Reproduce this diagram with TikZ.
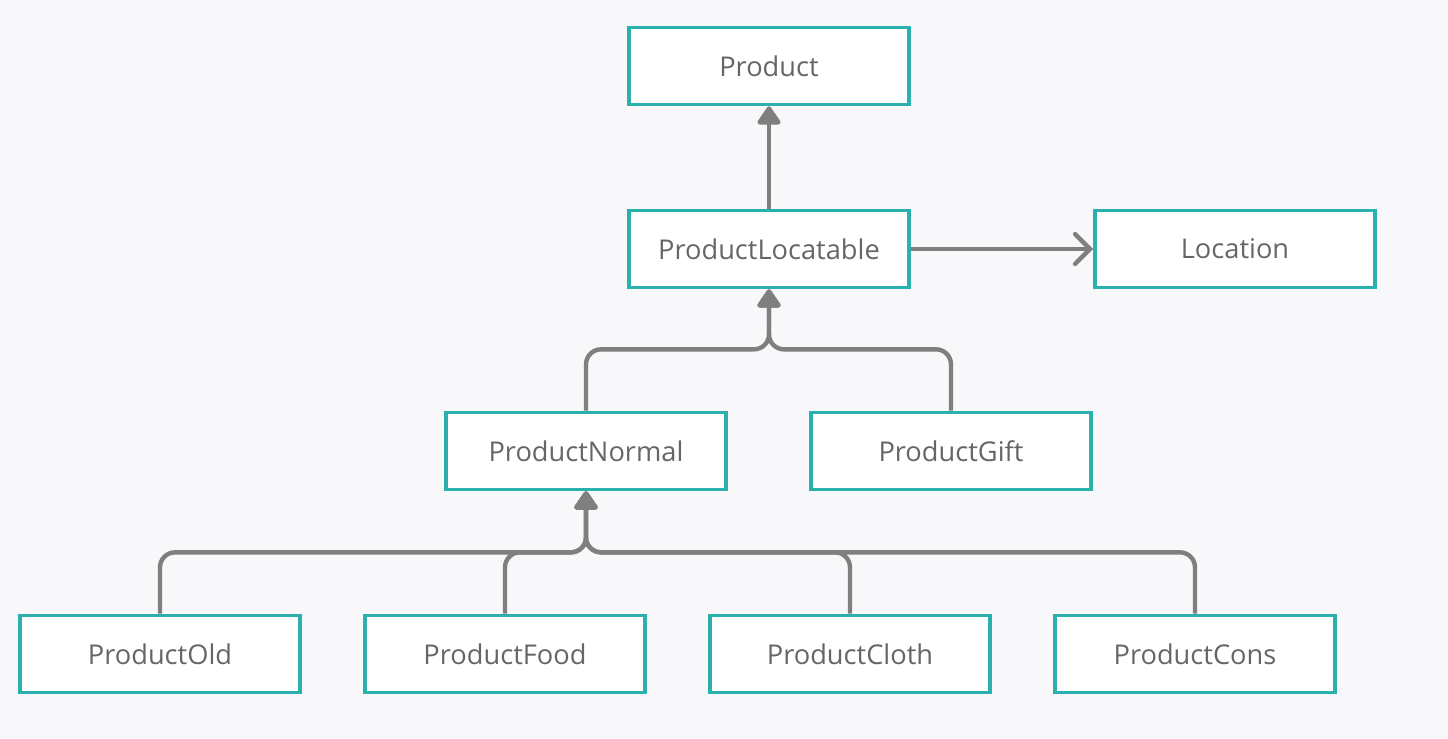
\documentclass[tikz,border=0pt]{standalone}
\usepackage{fontspec}
\setmainfont{Open Sans}
\usetikzlibrary{calc}
\usetikzlibrary{arrows.meta}
\definecolor{boxteal}{HTML}{2AB1AD}
\definecolor{linegrey}{HTML}{7F7F7F}
\definecolor{textgrey}{HTML}{666666}
\definecolor{bggrey}{HTML}{F8F8FA}
\tikzset{
    cls/.style={draw=boxteal, line width=2.1pt, fill=white, minimum width=5.6cm, minimum height=1.54cm, inner sep=0pt, text=textgrey, font=\fontsize{15.5}{18}\selectfont},
    inh/.style={draw=linegrey, line width=2.5pt, rounded corners=0.3cm, -{Triangle[length=0.4cm,width=0.52cm,round]}},
    assoc/.style={draw=linegrey, line width=2.5pt, -{Straight Barb[length=0.3cm,width=0.6cm,line cap=round]}}
}
\begin{document}
\begin{tikzpicture}[x=0.02cm, y=-0.02cm]
\useasboundingbox[fill=bggrey] (0,0) rectangle (1448,738);
\foreach \x/\y/\p/\labeltext in {769/66/product/{Product}, 769/249/locatable/{ProductLocatable}, 1235/249/location/{Location}, 586/451/normal/{ProductNormal}, 951/451/gift/{ProductGift}, 160/654/old/{ProductOld}, 505/654/food/{ProductFood}, 850/654/cloth/{ProductCloth}, 1195/654/cons/{ProductCons}}{
    \node[cls] (\p) at (\x,\y) {\labeltext};
}
\draw[inh] (locatable.north) -- (product.south);
\draw[assoc] (locatable.east) -- (location.west);
\foreach \p in {normal, gift}{
    \draw[inh] (\p.north) |- ($(locatable.south)+(0,60)$) -- (locatable.south);
}
\foreach \p in {old, food, cloth, cons}{
    \draw[inh] (\p.north) |- ($(normal.south)+(0,61)$) -- (normal.south);
}
\end{tikzpicture}
\end{document}
